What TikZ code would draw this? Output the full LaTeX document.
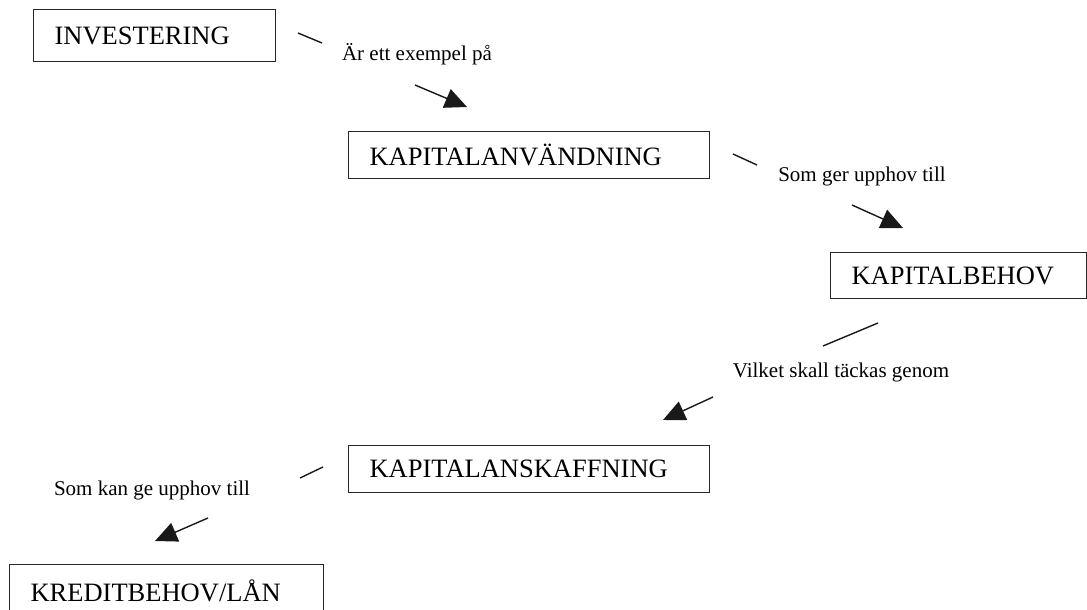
\documentclass[tikz,border=0pt]{standalone}
\usepackage{fontspec}
\setmainfont{Liberation Serif}
\usetikzlibrary{arrows.meta, positioning}

\begin{document}
\begin{tikzpicture}[
        x=1pt, y=-1pt,
        term/.style={rectangle, draw=black!85, line width=1.2pt, anchor=north west, align=left, inner xsep=21pt, inner ysep=0pt, font=\fontsize{26.5}{30}\selectfont},
        relation/.style={anchor=base, inner sep=0pt, font=\fontsize{21}{24}\selectfont},
        leadline/.style={line width=1.4pt, draw=black!90},
        arrow/.style={leadline, -{Triangle[length=22pt, width=20pt]}}
    ]
        \clip (0,0) rectangle (1087,610);

        \node[term, text width=200pt, minimum height=52pt] (invest) at (33,9) {INVESTERING};
        \node[term, text width=319pt, minimum height=47pt] (anvand) at (348,131) {KAPITALANVÄNDNING};
        \node[term, text width=214pt, minimum height=46pt] (behov) at (830,252) {KAPITALBEHOV};
        \node[term, text width=319pt, minimum height=47pt] (anskaff) at (348,445) {KAPITALANSKAFFNING};
        \node[term, text width=272pt, minimum height=52pt] (kredit) at (9,564) {KREDITBEHOV/LÅN};

        \coordinate (i1) at (298,33);  \coordinate (i2) at (322,43);
        \coordinate (i3) at (415,85);  \coordinate (i4) at (467,107);
        \coordinate (a1) at (733,154); \coordinate (a2) at (757,165);
        \coordinate (a3) at (852,205); \coordinate (a4) at (903,228);
        \coordinate (b1) at (878,323); \coordinate (b2) at (823,346);
        \coordinate (b3) at (713,397); \coordinate (b4) at (663,420);
        \coordinate (s1) at (323,467); \coordinate (s2) at (300,478);
        \coordinate (s3) at (208,518); \coordinate (s4) at (155,541);

        \node[relation] (ex) at (417,60) {Är ett exempel på};
        \node[relation] (ger) at (862,181) {Som ger upphov till};
        \node[relation] (tack) at (841,377) {Vilket skall täckas genom};
        \node[relation] (kan) at (152,495) {Som kan ge upphov till};

        \draw[leadline] (i1) -- (i2);
        \draw[arrow] (i3) -- (i4);
        \draw[leadline] (a1) -- (a2);
        \draw[arrow] (a3) -- (a4);
        \draw[leadline] (b1) -- (b2);
        \draw[arrow] (b3) -- (b4);
        \draw[leadline] (s1) -- (s2);
        \draw[arrow] (s3) -- (s4);

    \end{tikzpicture}
\end{document}
